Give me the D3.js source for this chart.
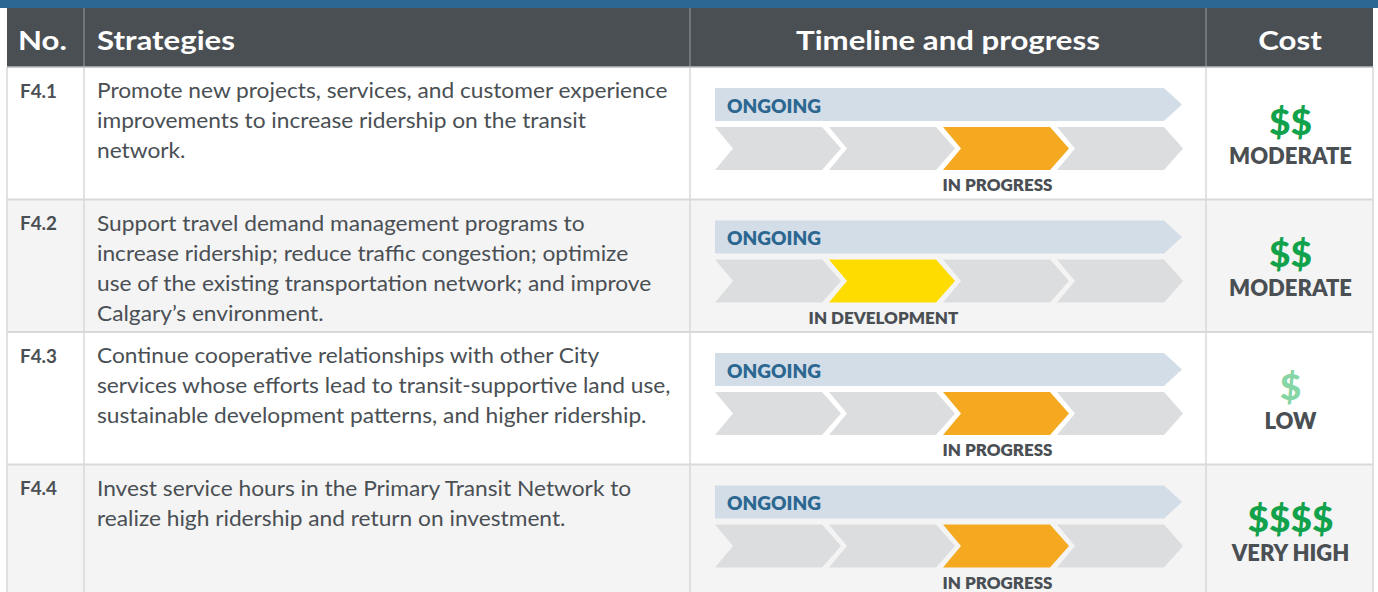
<!DOCTYPE html>
<html>
<head>
<meta charset="utf-8">
<script src="https://cdn.jsdelivr.net/npm/d3@7"></script>
<style>
  html, body { margin: 0; padding: 0; background: #ffffff; }
  svg { display: block; }
</style>
</head>
<body>
<svg id="chart" width="1378" height="592"></svg>
<script>
// ---------------- DATA ----------------
const headers = ["No.", "Strategies", "Timeline and progress", "Cost"];
const ids = ["F4.1", "F4.2", "F4.3", "F4.4"];
const strategies = [
  ["Promote new projects, services, and customer experience",
   "improvements to increase ridership on the transit",
   "network."],
  ["Support travel demand management programs to",
   "increase ridership; reduce traffic congestion; optimize",
   "use of the existing transportation network; and improve",
   "Calgary\u2019s environment."],
  ["Continue cooperative relationships with other City",
   "services whose efforts lead to transit-supportive land use,",
   "sustainable development patterns, and higher ridership."],
  ["Invest service hours in the Primary Transit Network to",
   "realize high ridership and return on investment."]
];
const timelineLabel = "ONGOING";
const stages = [0, 1, 2, 3];                 // four chevron steps
const activeStage = [2, 1, 2, 2];            // highlighted chevron per row
const stageLabels = ["IN PROGRESS", "IN DEVELOPMENT", "IN PROGRESS", "IN PROGRESS"];
const costDollars = [2, 2, 1, 4];
const costLabels = ["MODERATE", "MODERATE", "LOW", "VERY HIGH"];

// ---------------- STYLE / LAYOUT ----------------
const W = 1378, H = 592;
const colX = [7, 84, 690, 1206, 1373];
const headerTop = 8, headerBottom = 67;
const rowBottom = 597;
const dark = "#4a4f54";
const blue = "#2b6790";
const stageColor = { 1: "#ffdc00", 2: "#f4a920" };
const greyChev = "#dcdddf";
const ongoingFill = "#d3dde8";
const fontFam = "Lato, 'Open Sans', sans-serif";

const svg = d3.select("#chart");

function factorFor(sample, size, weight, target) {
  const t = svg.append("text").attr("font-family", fontFam).attr("font-size", size)
    .attr("font-weight", weight).text(sample);
  const w = t.node().getComputedTextLength();
  t.remove();
  return w > 0 ? target / w : 1;
}
function squeeze(sel, factor, ax) {
  sel.attr("transform", `translate(${ax},0) scale(${factor},1) translate(${-ax},0)`);
}

const F = {
  hdr:   { size: 27, weight: 700 },
  id:    { size: 19, weight: 700 },
  body:  { size: 20.5, weight: 400 },
  ong:   { size: 18.5, weight: 800 },
  stage: { size: 16, weight: 800 },
  dol:   { size: 36, weight: 900 },
  cost:  { size: 22, weight: 800 }
};
const kHdr   = factorFor("Timeline and progress", F.hdr.size, F.hdr.weight, 304);
const kId    = factorFor("F4.1", F.id.size, F.id.weight, 37);
const kBody  = factorFor(strategies[0][0], F.body.size, F.body.weight, 571);
const kOng   = factorFor(timelineLabel, F.ong.size, F.ong.weight, 94);
const kStage = factorFor("IN PROGRESS", F.stage.size, F.stage.weight, 110);
const kDol   = factorFor("$$", F.dol.size, F.dol.weight, 43);
const kCost  = factorFor("MODERATE", F.cost.size, F.cost.weight, 123);

// top blue strip
svg.append("rect").attr("x", 0).attr("y", 0).attr("width", W).attr("height", headerTop).attr("fill", blue);

// header
svg.append("rect").attr("x", colX[0]).attr("y", headerTop)
  .attr("width", colX[4] - colX[0]).attr("height", headerBottom - headerTop).attr("fill", dark);

const y = d3.scaleBand().domain(ids).range([headerBottom, rowBottom]).paddingInner(0);

svg.selectAll("rect.rowbg").data(ids).join("rect")
  .attr("class", "rowbg")
  .attr("x", colX[0]).attr("y", d => y(d))
  .attr("width", colX[4] - colX[0]).attr("height", y.bandwidth())
  .attr("fill", (d, i) => i % 2 ? "#f4f4f4" : "#ffffff");

svg.selectAll("line.hl").data(ids.slice(1)).join("line")
  .attr("class", "hl")
  .attr("x1", colX[0]).attr("x2", colX[4])
  .attr("y1", d => y(d)).attr("y2", d => y(d))
  .attr("stroke", "#d9d9d9").attr("stroke-width", 2);

colX.forEach(x => {
  svg.append("line").attr("x1", x).attr("x2", x).attr("y1", headerBottom).attr("y2", H)
    .attr("stroke", "#d9d9d9").attr("stroke-width", 1.5);
});
[colX[1], colX[2], colX[3]].forEach(x => {
  svg.append("line").attr("x1", x).attr("x2", x).attr("y1", headerTop).attr("y2", headerBottom)
    .attr("stroke", "#8d9196").attr("stroke-width", 1.2);
});
svg.append("line").attr("x1", colX[0]).attr("x2", colX[4]).attr("y1", headerBottom).attr("y2", headerBottom)
  .attr("stroke", "#b9bcbf").attr("stroke-width", 1.5);

// header text
const hdrY = 50;
const hdr = [
  { t: headers[0], x: 18, a: "start" },
  { t: headers[1], x: 97, a: "start" },
  { t: headers[2], x: 948, a: "middle" },
  { t: headers[3], x: 1290, a: "middle" }
];
hdr.forEach(h => {
  svg.append("text").attr("x", h.x).attr("y", hdrY).attr("text-anchor", h.a)
    .attr("font-family", fontFam).attr("font-weight", F.hdr.weight).attr("font-size", F.hdr.size)
    .attr("fill", "#ffffff").text(h.t)
    .call(s => squeeze(s, kHdr, h.x));
});

// IDs
svg.selectAll("text.id").data(ids).join("text")
  .attr("class", "id")
  .attr("x", 20).attr("y", d => y(d) + 31)
  .attr("font-family", fontFam).attr("font-weight", F.id.weight).attr("font-size", F.id.size)
  .attr("fill", dark).text(d => d)
  .each(function () { squeeze(d3.select(this), kId, 20); });

// strategies text
const lineH = 30;
ids.forEach((id, i) => {
  const g = svg.append("text")
    .attr("font-family", fontFam).attr("font-size", F.body.size).attr("fill", dark);
  strategies[i].forEach((ln, k) => {
    g.append("tspan").attr("x", 97).attr("y", y(id) + 31.5 + k * lineH).text(ln);
  });
  squeeze(g, kBody, 97);
});

// timeline chevrons
const xs = d3.scaleBand().domain(stages).range([715, 1171]).paddingInner(0);
const flatW = 107, tipD = 19, notchD = 18;
const barTop = 21, barH = 33, chevTop = 60, chevH = 43;

ids.forEach((id, i) => {
  const ry = y(id);
  const g = svg.append("g");
  const x0 = xs(stages[0]), xEnd = xs(stages[stages.length - 1]) + flatW;
  const t = ry + barTop, b = t + barH, m = (t + b) / 2;
  g.append("path")
    .attr("d", `M${x0},${t}L${xEnd},${t}L${xEnd + 18},${m}L${xEnd},${b}L${x0},${b}Z`)
    .attr("fill", ongoingFill);
  g.append("text").attr("x", x0 + 12).attr("y", m + 8.5)
    .attr("font-family", fontFam).attr("font-weight", F.ong.weight).attr("font-size", F.ong.size)
    .attr("fill", blue).text(timelineLabel)
    .call(s => squeeze(s, kOng, x0 + 12));
  const ct = ry + chevTop, cb = ct + chevH, cm = (ct + cb) / 2;
  g.selectAll("path.chev").data(stages).join("path")
    .attr("class", "chev")
    .attr("d", s => {
      const a = xs(s);
      return `M${a},${ct}L${a + flatW},${ct}L${a + flatW + tipD},${cm}L${a + flatW},${cb}L${a},${cb}L${a + notchD},${cm}Z`;
    })
    .attr("fill", s => s === activeStage[i] ? (stageColor[s] || "#f4a920") : greyChev);
  const lx = xs(activeStage[i]) + flatW / 2 + 1;
  g.append("text").attr("x", lx).attr("y", cb + 21.5).attr("text-anchor", "middle")
    .attr("font-family", fontFam).attr("font-weight", F.stage.weight).attr("font-size", F.stage.size)
    .attr("fill", dark).text(stageLabels[i])
    .call(s => squeeze(s, kStage, lx));
});

// cost
const costX = 1290.5;
ids.forEach((id, i) => {
  const ry = y(id);
  const n = costDollars[i];
  svg.append("text").attr("x", costX).attr("y", ry + 68).attr("text-anchor", "middle")
    .attr("font-family", fontFam).attr("font-weight", F.dol.weight).attr("font-size", F.dol.size)
    .attr("fill", n === 1 ? "#86d5a5" : "#12a24b")
    .text("$".repeat(n))
    .call(s => squeeze(s, kDol, costX));
  svg.append("text").attr("x", costX).attr("y", ry + 97).attr("text-anchor", "middle")
    .attr("font-family", fontFam).attr("font-weight", F.cost.weight).attr("font-size", F.cost.size)
    .attr("fill", dark).text(costLabels[i])
    .call(s => squeeze(s, kCost, costX));
});
</script>
</body>
</html>
